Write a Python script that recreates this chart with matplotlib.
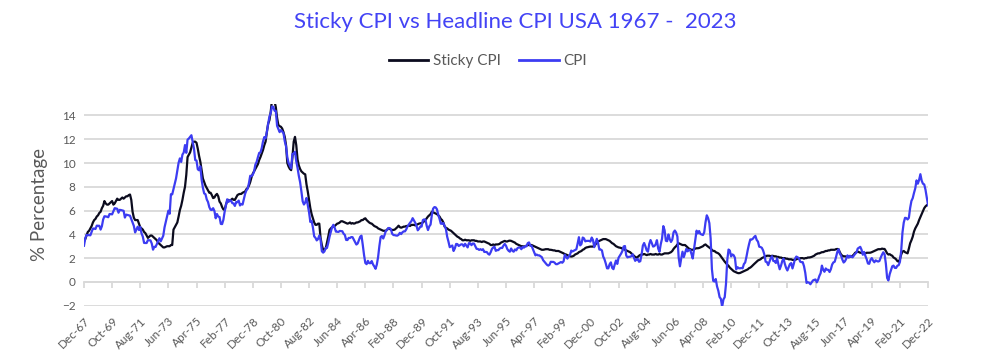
import numpy as np
import matplotlib
matplotlib.use("Agg")
import matplotlib.pyplot as plt
from matplotlib.lines import Line2D

plt.rcParams['font.family'] = ['Lato', 'DejaVu Sans']

# Monthly year-on-year % change, Dec-1967 .. Dec-2022
cpi = [3.04,
    3.65, 3.95, 3.94, 3.93, 3.92, 4.20, 4.49, 4.48, 4.45, 4.73, 4.72, 4.72,
    4.40, 4.68, 5.25, 5.52, 5.51, 5.48, 5.44, 5.71, 5.70, 5.68, 5.93, 6.20,
    6.18, 6.15, 5.82, 6.06, 6.04, 6.01, 5.98, 5.41, 5.66, 5.63, 5.60, 5.57,
    5.29, 5.00, 4.71, 4.16, 4.40, 4.64, 4.36, 4.62, 4.08, 3.81, 3.28, 3.27,
    3.27, 3.51, 3.50, 3.49, 3.23, 2.71, 2.95, 2.94, 3.19, 3.42, 3.67, 3.41,
    3.65, 3.88, 4.59, 5.06, 5.53, 5.99, 5.73, 7.38, 7.36, 7.80, 8.25, 8.71,
    9.39, 10.02, 10.39, 10.09, 10.71, 10.88, 11.51, 10.86, 11.97, 12.06, 12.20, 12.34,
    11.80, 11.23, 10.25, 10.21, 9.47, 9.39, 9.72, 8.60, 7.91, 7.44, 7.38, 6.94,
    6.72, 6.29, 6.07, 6.05, 6.20, 5.97, 5.35, 5.71, 5.49, 5.46, 4.88, 4.86,
    5.22, 5.91, 6.44, 6.95, 6.73, 6.87, 6.83, 6.62, 6.60, 6.39, 6.72, 6.70,
    6.84, 6.43, 6.55, 6.50, 6.97, 7.41, 7.70, 7.84, 8.31, 8.93, 8.89, 9.02,
    9.28, 9.86, 10.09, 10.49, 10.85, 10.89, 11.26, 11.82, 12.18, 12.07, 12.61, 13.29,
    13.91, 14.18, 14.76, 14.73, 14.41, 14.38, 13.13, 12.87, 12.60, 12.77, 12.65, 12.52,
    11.83, 11.41, 10.49, 10.00, 9.78, 9.55, 10.76, 10.80, 10.95, 10.14, 9.59, 8.92,
    8.39, 7.62, 6.78, 6.51, 6.68, 7.06, 6.44, 5.85, 5.04, 5.14, 4.59, 3.83,
    3.71, 3.49, 3.60, 3.90, 3.55, 2.58, 2.46, 2.56, 2.86, 2.85, 3.27, 3.79,
    4.19, 4.60, 4.80, 4.56, 4.23, 4.22, 4.20, 4.29, 4.27, 4.26, 4.05, 3.95,
    3.53, 3.52, 3.70, 3.69, 3.77, 3.76, 3.55, 3.35, 3.14, 3.23, 3.51, 3.80,
    3.89, 3.11, 2.26, 1.59, 1.49, 1.77, 1.58, 1.57, 1.75, 1.47, 1.30, 1.10,
    1.46, 2.10, 3.03, 3.78, 3.86, 3.65, 3.93, 4.28, 4.36, 4.53, 4.53, 4.43,
    4.05, 3.94, 3.93, 3.90, 3.89, 3.96, 4.13, 4.02, 4.17, 4.25, 4.25, 4.42,
    4.67, 4.83, 4.98, 5.11, 5.36, 5.17, 4.98, 4.71, 4.34, 4.47, 4.66, 4.65,
    5.20, 5.26, 5.23, 4.71, 4.36, 4.67, 4.82, 5.62, 6.16, 6.29, 6.27, 6.11,
    5.65, 5.31, 4.90, 4.89, 4.95, 4.70, 4.45, 3.80, 3.39, 2.92, 2.99, 3.06,
    2.60, 2.82, 3.19, 3.18, 3.02, 3.09, 3.16, 3.15, 2.99, 3.20, 3.05, 2.90,
    3.26, 3.25, 3.09, 3.23, 3.22, 3.00, 2.78, 2.77, 2.69, 2.75, 2.68, 2.75,
    2.52, 2.52, 2.51, 2.36, 2.29, 2.49, 2.77, 2.90, 2.96, 2.61, 2.67, 2.67,
    2.80, 2.86, 2.85, 3.05, 3.19, 3.04, 2.76, 2.62, 2.54, 2.81, 2.61, 2.54,
    2.73, 2.65, 2.84, 2.90, 2.89, 2.75, 2.95, 2.88, 3.00, 2.99, 3.26, 3.32,
    3.04, 3.03, 2.76, 2.50, 2.23, 2.30, 2.23, 2.23, 2.15, 2.08, 1.83, 1.70,
    1.57, 1.44, 1.37, 1.44, 1.69, 1.68, 1.68, 1.62, 1.49, 1.49, 1.55, 1.61,
    1.67, 1.61, 1.73, 2.28, 2.09, 1.96, 2.14, 2.26, 2.63, 2.56, 2.62, 2.68,
    2.74, 3.22, 3.76, 3.07, 3.19, 3.73, 3.66, 3.41, 3.45, 3.45, 3.45, 3.39,
    3.73, 3.53, 2.92, 3.27, 3.62, 3.25, 2.72, 2.72, 2.65, 2.13, 1.90, 1.55,
    1.14, 1.14, 1.48, 1.64, 1.18, 1.07, 1.46, 1.80, 1.51, 2.03, 2.20, 2.38,
    2.60, 2.98, 3.02, 2.22, 2.06, 2.11, 2.11, 2.16, 2.32, 2.04, 1.77, 1.88,
    1.93, 1.69, 1.74, 2.29, 3.05, 3.27, 2.99, 2.65, 2.54, 3.19, 3.52, 3.26,
    2.97, 3.01, 3.15, 3.51, 2.80, 2.53, 3.17, 3.64, 4.69, 4.35, 3.46, 3.42,
    3.99, 3.60, 3.36, 3.55, 4.17, 4.32, 4.15, 3.82, 2.06, 1.31, 1.97, 2.54,
    2.08, 2.42, 2.78, 2.57, 2.69, 2.69, 2.36, 1.97, 2.76, 3.54, 4.31, 4.08,
    4.28, 4.03, 3.98, 3.94, 4.18, 5.02, 5.60, 5.37, 4.94, 3.66, 1.07, 0.09,
    0.03, 0.24, -0.38, -0.74, -1.28, -1.43, -2.10, -1.48, -1.29, -0.18, 1.84, 2.72,
    2.63, 2.14, 2.31, 2.24, 2.02, 1.05, 1.24, 1.15, 1.14, 1.17, 1.14, 1.50,
    1.63, 2.11, 2.68, 3.16, 3.57, 3.56, 3.63, 3.77, 3.87, 3.53, 3.39, 2.96,
    2.93, 2.87, 2.65, 2.30, 1.70, 1.66, 1.41, 1.69, 1.99, 2.16, 1.76, 1.74,
    1.59, 1.98, 1.47, 1.06, 1.36, 1.75, 1.96, 1.52, 1.18, 0.96, 1.24, 1.50,
    1.58, 1.13, 1.51, 1.95, 2.13, 2.07, 1.99, 1.70, 1.66, 1.66, 1.32, 0.76,
    -0.09, -0.03, -0.07, -0.20, -0.04, 0.12, 0.17, 0.20, -0.04, 0.17, 0.50, 0.73,
    1.37, 1.02, 0.85, 1.13, 1.02, 1.01, 0.83, 1.06, 1.46, 1.64, 1.69, 2.07,
    2.50, 2.74, 2.38, 2.20, 1.87, 1.63, 1.73, 1.94, 2.23, 2.04, 2.20, 2.11,
    2.07, 2.21, 2.36, 2.46, 2.80, 2.87, 2.95, 2.70, 2.28, 2.52, 2.18, 1.91,
    1.55, 1.52, 1.86, 2.00, 1.79, 1.65, 1.81, 1.75, 1.71, 1.76, 2.05, 2.29,
    2.49, 2.33, 1.54, 0.33, 0.12, 0.65, 0.99, 1.31, 1.37, 1.18, 1.17, 1.36,
    1.40, 1.68, 2.62, 4.16, 4.99, 5.39, 5.37, 5.25, 5.39, 6.22, 6.81, 7.04,
    7.48, 7.87, 8.54, 8.26, 8.58, 9.06, 8.52, 8.26, 8.20, 7.75, 7.11, 6.45]

sticky_cpi = [3.4,
    3.6, 3.9, 4.2, 4.3, 4.5, 4.7, 5.0, 5.2, 5.3, 5.5, 5.6, 5.8,
    5.9, 6.2, 6.4, 6.8, 6.6, 6.5, 6.5, 6.6, 6.7, 6.8, 6.5, 6.6,
    6.8, 7.0, 6.9, 6.9, 7.0, 7.1, 7.0, 7.1, 7.2, 7.2, 7.3, 7.35,
    6.9, 5.9, 5.4, 5.2, 5.2, 5.2, 4.9, 4.6, 4.5, 4.4, 4.2, 4.1,
    3.9, 3.7, 3.8, 3.9, 3.9, 3.8, 3.7, 3.6, 3.5, 3.3, 3.2, 3.1,
    3.0, 2.9, 2.9, 2.95, 3.0, 3.0, 3.0, 3.1, 3.1, 4.4, 4.6, 4.8,
    5.0, 5.5, 6.05, 6.4, 6.9, 7.5, 8.0, 9.0, 10.5, 10.7, 10.9, 11.3,
    11.7, 11.8, 11.8, 11.7, 11.2, 10.6, 10.1, 9.4, 8.7, 8.4, 8.1, 7.9,
    7.7, 7.5, 7.5, 7.3, 7.05, 7.1, 7.3, 7.4, 7.2, 6.75, 6.6, 6.3,
    6.1, 6.05, 6.5, 6.8, 6.9, 6.8, 6.9, 7.0, 6.9, 6.9, 7.1, 7.3,
    7.37, 7.4, 7.4, 7.5, 7.55, 7.6, 7.8, 7.9, 8.1, 8.4, 8.8, 9.1,
    9.3, 9.5, 9.7, 9.9, 10.25, 10.5, 10.8, 11.1, 11.5, 11.8, 12.6, 13.3,
    13.6, 14.3, 15.3, 15.6, 15.2, 14.7, 13.8, 13.2, 13.1, 13.05, 12.9, 12.6,
    12.2, 11.5, 10.0, 9.7, 9.5, 9.4, 10.5, 11.8, 12.2, 11.5, 10.3, 9.8,
    9.5, 9.3, 9.2, 9.1, 9.05, 8.2, 7.6, 6.9, 6.2, 5.7, 5.35, 5.0,
    4.8, 4.8, 4.9, 4.9, 3.7, 3.1, 2.7, 2.75, 2.8, 3.3, 3.8, 4.37,
    4.5, 4.6, 4.65, 4.7, 4.8, 4.9, 4.93, 5.0, 5.1, 5.1, 5.05, 5.0,
    4.95, 4.9, 4.93, 5.0, 4.9, 4.95, 4.9, 4.93, 5.0, 5.0, 5.05, 5.1,
    5.2, 5.2, 5.3, 5.35, 5.2, 5.1, 5.0, 4.93, 4.9, 4.8, 4.7, 4.65,
    4.6, 4.5, 4.45, 4.4, 4.35, 4.3, 4.3, 4.3, 4.4, 4.5, 4.45, 4.4,
    4.37, 4.37, 4.4, 4.5, 4.6, 4.73, 4.6, 4.56, 4.6, 4.65, 4.65, 4.7,
    4.7, 4.75, 4.7, 4.8, 4.79, 4.8, 4.75, 4.8, 4.85, 4.9, 4.93, 4.93,
    5.0, 5.1, 5.2, 5.35, 5.5, 5.6, 5.7, 5.9, 5.85, 5.8, 5.75, 5.7,
    5.6, 5.5, 5.3, 5.2, 5.0, 4.65, 4.55, 4.5, 4.4, 4.35, 4.3, 4.2,
    4.1, 4.0, 3.9, 3.8, 3.75, 3.65, 3.6, 3.5, 3.5, 3.55, 3.5, 3.5,
    3.5, 3.45, 3.5, 3.5, 3.5, 3.45, 3.45, 3.4, 3.4, 3.4, 3.35, 3.4,
    3.4, 3.35, 3.3, 3.25, 3.2, 3.1, 3.1, 3.15, 3.1, 3.15, 3.15, 3.16,
    3.2, 3.3, 3.35, 3.4, 3.45, 3.4, 3.4, 3.45, 3.47, 3.45, 3.4, 3.35,
    3.3, 3.2, 3.15, 3.1, 3.05, 3.0, 3.0, 2.97, 3.0, 3.05, 3.1, 3.1,
    3.1, 3.1, 3.05, 3.0, 2.95, 2.9, 2.85, 2.8, 2.75, 2.7, 2.7, 2.72,
    2.75, 2.75, 2.75, 2.7, 2.7, 2.68, 2.65, 2.65, 2.6, 2.6, 2.6, 2.55,
    2.5, 2.45, 2.4, 2.33, 2.3, 2.25, 2.2, 2.15, 2.13, 2.15, 2.2, 2.3,
    2.35, 2.4, 2.5, 2.55, 2.6, 2.7, 2.75, 2.85, 2.9, 2.92, 2.95, 2.97,
    2.97, 2.97, 3.0, 3.15, 3.3, 3.4, 3.45, 3.5, 3.55, 3.6, 3.6, 3.6,
    3.55, 3.5, 3.45, 3.35, 3.25, 3.2, 3.1, 3.0, 2.95, 2.9, 2.88, 2.85,
    2.8, 2.75, 2.7, 2.65, 2.6, 2.55, 2.5, 2.4, 2.3, 2.2, 2.1, 2.04,
    2.1, 2.2, 2.27, 2.3, 2.3, 2.35, 2.3, 2.25, 2.3, 2.3, 2.35, 2.3,
    2.3, 2.3, 2.35, 2.3, 2.3, 2.35, 2.3, 2.3, 2.35, 2.4, 2.4, 2.4,
    2.4, 2.45, 2.5, 2.6, 2.77, 2.9, 3.0, 3.15, 3.25, 3.2, 3.15, 3.1,
    3.1, 3.1, 3.0, 2.9, 2.8, 2.75, 2.7, 2.7, 2.75, 2.8, 2.83, 2.83,
    2.85, 2.9, 2.95, 3.0, 3.1, 3.15, 3.05, 2.97, 2.9, 2.8, 2.7, 2.6,
    2.6, 2.5, 2.45, 2.4, 2.3, 2.15, 2.0, 1.85, 1.7, 1.57, 1.45, 1.35,
    1.2, 1.1, 1.0, 0.9, 0.85, 0.8, 0.75, 0.73, 0.75, 0.8, 0.85, 0.9,
    0.95, 1.0, 1.05, 1.15, 1.2, 1.29, 1.4, 1.5, 1.6, 1.7, 1.8, 1.85,
    1.9, 2.0, 2.05, 2.1, 2.15, 2.2, 2.2, 2.2, 2.15, 2.2, 2.18, 2.15,
    2.15, 2.1, 2.1, 2.04, 2.05, 2.0, 2.0, 2.0, 1.95, 1.95, 1.9, 1.9,
    1.9, 1.85, 1.85, 1.85, 1.9, 1.95, 1.95, 1.99, 2.0, 2.0, 1.95, 2.0,
    2.0, 2.05, 2.05, 2.07, 2.1, 2.15, 2.2, 2.3, 2.35, 2.4, 2.4, 2.45,
    2.5, 2.5, 2.55, 2.6, 2.6, 2.65, 2.65, 2.7, 2.7, 2.7, 2.7, 2.75,
    2.77, 2.75, 2.5, 2.3, 2.2, 2.15, 2.15, 2.13, 2.13, 2.15, 2.13, 2.13,
    2.2, 2.3, 2.45, 2.5, 2.55, 2.5, 2.45, 2.45, 2.4, 2.4, 2.4, 2.45,
    2.45, 2.45, 2.46, 2.5, 2.55, 2.6, 2.65, 2.7, 2.75, 2.75, 2.75, 2.8,
    2.77, 2.77, 2.6, 2.4, 2.3, 2.33, 2.25, 2.2, 2.05, 1.99, 1.9, 1.75,
    1.7, 1.9, 2.3, 2.55, 2.6, 2.5, 2.45, 2.4, 2.8, 3.25, 3.5, 3.8,
    4.23, 4.5, 4.7, 4.9, 5.2, 5.45, 5.7, 5.95, 6.2, 6.35, 6.45, 6.5]

tick_labels = ["Dec-67", "Oct-69", "Aug-71", "Jun-73", "Apr-75", "Feb-77", "Dec-78",
               "Oct-80", "Aug-82", "Jun-84", "Apr-86", "Feb-88", "Dec-89", "Oct-91",
               "Aug-93", "Jun-95", "Apr-97", "Feb-99", "Dec-00", "Oct-02", "Aug-04",
               "Jun-06", "Apr-08", "Feb-10", "Dec-11", "Oct-13", "Aug-15", "Jun-17",
               "Apr-19", "Feb-21", "Dec-22"]
y_ticks = [-2, 0, 2, 4, 6, 8, 10, 12, 14]

title_txt = "Sticky CPI vs Headline CPI USA 1967 -  2023"
series_names = ["Sticky CPI", "CPI"]

BLUE = "#3C3CF2"
BLACK = "#0B0B1E"
GRID = "#D9D9D9"
TXT = "#595959"

fig = plt.figure(figsize=(10.02, 3.63), dpi=100)
ax = fig.add_axes([0.0838, 0.158, 0.8424, 0.5566])

x = np.arange(len(cpi))
ax.plot(x, sticky_cpi, color=BLACK, lw=1.6, zorder=3)
ax.plot(x, cpi, color=BLUE, lw=1.6, zorder=4)

ax.set_xlim(0, len(cpi) - 1)
ax.set_ylim(-2, 15)
ax.set_yticks(y_ticks)
ax.grid(axis='y', color=GRID, lw=1.3)
ax.set_axisbelow(True)
for s in ax.spines.values():
    s.set_visible(False)
ax.tick_params(axis='y', length=0, labelsize=8.5, labelcolor=TXT, pad=6)

tick_pos = np.arange(len(tick_labels)) * 22
ax.set_xticks(tick_pos)
ax.set_xticklabels(tick_labels, rotation=45, ha='right', va='top',
                   rotation_mode='anchor', fontsize=8.5, color=TXT)
ax.tick_params(axis='x', length=0, pad=7)

# axis line at zero with tick marks
sec = ax.secondary_xaxis(2 / 17)
sec.set_xticks(tick_pos)
sec.set_xticklabels([])
sec.tick_params(axis='x', direction='out', length=4, color=GRID, width=1.3)
sec.spines['bottom'].set_color(GRID)
sec.spines['bottom'].set_linewidth(1.3)

ax.set_ylabel("% Percentage", fontsize=13.5, color=TXT, labelpad=10)

fig.text(0.514, 0.939, title_txt, ha='center', va='center', color="#4343F5", fontsize=16)

handles = [Line2D([], [], color=BLACK, lw=2), Line2D([], [], color=BLUE, lw=2)]
leg = fig.legend(handles, series_names, loc='center', bbox_to_anchor=(0.487, 0.832),
                 ncol=2, frameon=False, fontsize=11, handlelength=2.6,
                 columnspacing=1.2, handletextpad=0.3)
for t in leg.get_texts():
    t.set_color(TXT)

fig.savefig("out.png", dpi=100)
